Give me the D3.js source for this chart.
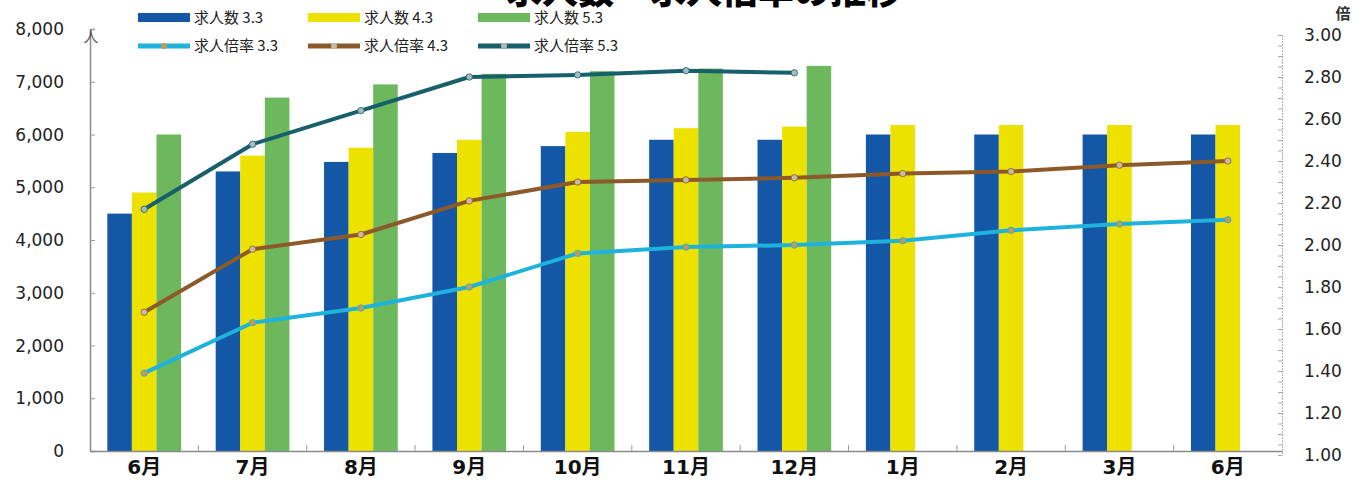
<!DOCTYPE html>
<html>
<head>
<meta charset="utf-8">
<script src="https://cdn.jsdelivr.net/npm/d3@7"></script>
<style>
  body { margin: 0; background: #fff; }
  svg { display: block; }
</style>
</head>
<body>
<div id="chart"></div>
<script>
var width = 1368;
var height = 502;

// data
var months = ["6月", "7月", "8月", "9月", "10月", "11月", "12月", "1月", "2月", "3月", "6月"];
var jobs33 = [4500, 5300, 5480, 5650, 5780, 5900, 5900, 6000, 6000, 6000, 6000];
var jobs43 = [4900, 5600, 5750, 5900, 6050, 6120, 6150, 6180, 6180, 6180, 6180];
var jobs53 = [6000, 6700, 6950, 7150, 7200, 7250, 7300];
var ratio33 = [1.39, 1.63, 1.70, 1.80, 1.96, 1.99, 2.00, 2.02, 2.07, 2.10, 2.12];
var ratio43 = [1.68, 1.98, 2.05, 2.21, 2.30, 2.31, 2.32, 2.34, 2.35, 2.38, 2.40];
var ratio53 = [2.17, 2.48, 2.64, 2.80, 2.81, 2.83, 2.82];
var leftTicks = [0, 1000, 2000, 3000, 4000, 5000, 6000, 7000, 8000];
var rightTicks = [1.0, 1.2, 1.4, 1.6, 1.8, 2.0, 2.2, 2.4, 2.6, 2.8, 3.0];

var barSeries = [
  {name: "求人数 3.3", values: jobs33, color: "#1357a6", slot: 0},
  {name: "求人数 4.3", values: jobs43, color: "#ede100", slot: 1},
  {name: "求人数 5.3", values: jobs53, color: "#6db85c", slot: 2}
];
var lineSeries = [
  {name: "求人倍率 3.3", values: ratio33, color: "#1fb2dc", marker: "#c39a5c"},
  {name: "求人倍率 4.3", values: ratio43, color: "#8c5a2a", marker: "#c9bca4"},
  {name: "求人倍率 5.3", values: ratio53, color: "#175f6b", marker: "#a9b9c2"}
];

var svg = d3.select("#chart").append("svg")
  .attr("width", width)
  .attr("height", height);

// scales
var x = d3.scaleBand()
  .domain(d3.range(months.length))
  .range([90, 1282])
  .paddingInner(0.32)
  .paddingOuter(0.16);

var xSlot = d3.scaleBand()
  .domain([0, 1, 2])
  .range([0, x.bandwidth()]);

var yLeft = d3.scaleLinear()
  .domain([0, 8000])
  .range([451, 29]);

var yRight = d3.scaleLinear()
  .domain([1, 3])
  .range([455, 35]);

// title (cut off at the top in the original)
svg.append("text")
  .attr("x", 704)
  .attr("y", 4)
  .attr("text-anchor", "middle")
  .style("font-family", "'Noto Sans CJK JP'")
  .style("font-weight", "900")
  .style("font-size", "36px")
  .text("求人数・求人倍率の推移");

// bars
barSeries.forEach(function (s) {
  svg.append("g").selectAll("rect")
    .data(s.values)
    .enter().append("rect")
    .attr("x", (d, i) => x(i) + xSlot(s.slot))
    .attr("y", d => yLeft(d))
    .attr("width", xSlot.bandwidth())
    .attr("height", d => yLeft(0) - yLeft(d))
    .attr("fill", s.color);
});

// left axis
var leftAxis = svg.append("g")
  .attr("transform", "translate(90,0)")
  .call(d3.axisRight(yLeft).tickValues(leftTicks).tickSize(5).tickFormat(""));
leftAxis.select(".domain").attr("stroke", "#8a8a8a").attr("stroke-width", 1.5);
leftAxis.selectAll(".tick line").attr("stroke", "#9a9a9a");

svg.append("g").selectAll("text")
  .data(leftTicks)
  .enter().append("text")
  .attr("x", 64)
  .attr("y", d => yLeft(d))
  .attr("dy", "0.36em")
  .attr("text-anchor", "end")
  .style("font-family", "'DejaVu Sans'")
  .style("font-size", "17px")
  .style("fill", "#222")
  .text(d => d3.format(",")(d));

svg.append("text")
  .attr("x", 91)
  .attr("y", 42)
  .attr("text-anchor", "middle")
  .style("font-family", "'Noto Sans CJK JP'")
  .style("font-size", "15px")
  .style("fill", "#555")
  .text("人");

// right axis
var rightAxis = svg.append("g")
  .attr("transform", "translate(1282,0)")
  .call(d3.axisLeft(yRight).ticks(40).tickSize(4).tickFormat(""));
rightAxis.select(".domain").attr("stroke", "#b0b0b0").attr("stroke-dasharray", "2,1");
rightAxis.selectAll(".tick line").attr("stroke", "#a8a8a8");

svg.append("g").selectAll("text")
  .data(rightTicks)
  .enter().append("text")
  .attr("x", 1304)
  .attr("y", d => yRight(d))
  .attr("dy", "0.36em")
  .style("font-family", "'DejaVu Sans'")
  .style("font-size", "17px")
  .style("fill", "#222")
  .text(d => d3.format(".2f")(d));

svg.append("text")
  .attr("x", 1343)
  .attr("y", 19)
  .attr("text-anchor", "middle")
  .style("font-family", "'Noto Sans CJK JP'")
  .style("font-size", "15px")
  .style("font-weight", "700")
  .style("fill", "#333")
  .text("倍");

// bottom axis
var bottomAxis = svg.append("g")
  .attr("transform", "translate(0,451)")
  .call(d3.axisBottom(x).tickSize(0).tickFormat(i => months[i]));
bottomAxis.select(".domain").attr("stroke", "#8a8a8a").attr("stroke-width", 1.5);
bottomAxis.selectAll("text")
  .attr("y", 9)
  .style("font-family", "'DejaVu Sans', 'Noto Sans CJK JP'")
  .style("font-weight", "700")
  .style("font-size", "20px")
  .style("fill", "#111");
// small separators between months
svg.append("g").selectAll("line")
  .data(d3.range(1, months.length))
  .enter().append("line")
  .attr("x1", i => x(i) - x.step() * x.paddingInner() / 2)
  .attr("x2", i => x(i) - x.step() * x.paddingInner() / 2)
  .attr("y1", 451)
  .attr("y2", 445)
  .attr("stroke", "#9a9a9a");

// lines
var line = d3.line()
  .x((d, i) => x(i) + x.bandwidth() / 2)
  .y(d => yRight(d));

lineSeries.forEach(function (s) {
  svg.append("path")
    .datum(s.values)
    .attr("d", line)
    .attr("fill", "none")
    .attr("stroke", s.color)
    .attr("stroke-width", 4)
    .attr("stroke-linejoin", "round");
  svg.append("g").selectAll("circle")
    .data(s.values)
    .enter().append("circle")
    .attr("cx", (d, i) => x(i) + x.bandwidth() / 2)
    .attr("cy", d => yRight(d))
    .attr("r", 3.2)
    .attr("fill", s.marker)
    .attr("stroke", s.color)
    .attr("stroke-width", 0.8);
});

// legend
var legendX = [138, 308, 478];
var legend = svg.append("g");
barSeries.forEach(function (s, i) {
  legend.append("rect")
    .attr("x", legendX[i])
    .attr("y", 13)
    .attr("width", 52)
    .attr("height", 9)
    .attr("fill", s.color);
  legend.append("text")
    .attr("x", legendX[i] + 56)
    .attr("y", 18)
    .attr("dy", "0.35em")
    .style("font-family", "'Noto Sans CJK JP'")
    .style("font-size", "15px")
    .style("fill", "#222")
    .text(s.name);
});
lineSeries.forEach(function (s, i) {
  legend.append("line")
    .attr("x1", legendX[i])
    .attr("x2", legendX[i] + 52)
    .attr("y1", 46)
    .attr("y2", 46)
    .attr("stroke", s.color)
    .attr("stroke-width", 5);
  legend.append("circle")
    .attr("cx", legendX[i] + 26)
    .attr("cy", 46)
    .attr("r", 3)
    .attr("fill", s.marker);
  legend.append("text")
    .attr("x", legendX[i] + 56)
    .attr("y", 46)
    .attr("dy", "0.35em")
    .style("font-family", "'Noto Sans CJK JP'")
    .style("font-size", "15px")
    .style("fill", "#222")
    .text(s.name);
});
</script>
</body>
</html>
